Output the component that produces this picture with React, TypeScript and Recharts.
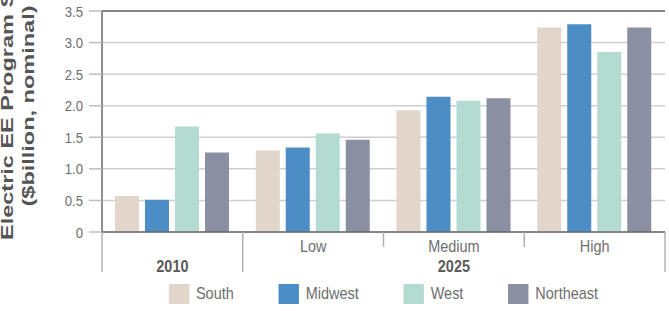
import React from 'react';
import { BarChart, Bar, XAxis, YAxis, CartesianGrid, Legend, ReferenceLine } from 'recharts';

// scenario row and the year row under it
const scenarios = ['', 'Low', 'Medium', 'High'];
const years = ['2010', '2025', '2025', '2025'];

// $billion, nominal
const south = [0.57, 1.29, 1.93, 3.24];
const midwest = [0.51, 1.34, 2.14, 3.29];
const west = [1.67, 1.56, 2.08, 2.85];
const northeast = [1.26, 1.46, 2.12, 3.24];

const yTicks = [0, 0.5, 1, 1.5, 2, 2.5, 3, 3.5];

const series = [
  { key: 'south', name: 'South', color: '#e2d5c9' },
  { key: 'midwest', name: 'Midwest', color: '#4b8dc4' },
  { key: 'west', name: 'West', color: '#b4dbd2' },
  { key: 'northeast', name: 'Northeast', color: '#8a8fa2' },
];

const data = scenarios.map((s, i) => ({
  scenario: s,
  year: years[i],
  south: south[i],
  midwest: midwest[i],
  west: west[i],
  northeast: northeast[i],
}));

const W = 669;
const H = 311;
const margin = { top: 11, right: 4, left: 0, bottom: 34 };
const yAxisWidth = 102;
const plotWidth = W - margin.left - margin.right - yAxisWidth;
const band = plotWidth / scenarios.length;

// no narrow font installed, so squeeze Liberation Sans horizontally
const font = "'Liberation Sans', Arial, sans-serif";
const squeeze = 0.85;
const tickGray = '#6e6e6e';
const lineGray = '#6a6a6a';

const ScenarioTick = (props: any) => {
  const { x, y, index, payload } = props;
  const i = index;
  const left = x - band / 2;
  const yearStart = i === 0 || years[i] !== years[i - 1];
  let run = 1;
  while (i + run < years.length && years[i + run] === years[i]) run++;
  const isLast = i === scenarios.length - 1;
  const yearX = x + ((run - 1) * band) / 2;
  return (
    <g fontFamily={font} fontSize={17}>
      <line x1={left} x2={left} y1={y} y2={y + (yearStart ? 40 : 15)} stroke="#b3b3b3" strokeWidth={1.5} />
      {isLast && (
        <line x1={x + band / 2} x2={x + band / 2} y1={y} y2={y + 40} stroke="#b3b3b3" strokeWidth={1.5} />
      )}
      <text transform={`translate(${x},${y + 20}) scale(${squeeze},1)`} textAnchor="middle" fill={tickGray}>
        {payload.value}
      </text>
      {yearStart && (
        <text
          transform={`translate(${yearX},${y + 40}) scale(${squeeze},1)`}
          textAnchor="middle"
          fill="#5a5a5a"
          fontWeight="bold"
        >
          {years[i]}
        </text>
      )}
    </g>
  );
};

const YTick = (props: any) => {
  const { x, y, payload } = props;
  const v = payload.value as number;
  return (
    <text
      transform={`translate(${x},${y}) scale(${squeeze},1)`}
      dy="0.36em"
      textAnchor="end"
      fill={tickGray}
      fontSize={15.5}
      fontFamily={font}
    >
      {v === 0 ? '0' : v.toFixed(1)}
    </text>
  );
};

const YTitle = () => (
  <g fill="#555" fontFamily={font} fontWeight="bold" fontSize={23.5}>
    <text transform="translate(13,240) rotate(-90) scale(1,0.72)" textAnchor="start">
      Electric EE Program Spending
    </text>
    <text transform="translate(34,106) rotate(-90) scale(1,0.72)" textAnchor="middle">
      ($billion, nominal)
    </text>
  </g>
);

// whole row is squeezed, so swatch sizes and gaps are given pre-squeeze
const LegendBox = () => (
  <div style={{ display: 'flex', justifyContent: 'center', transform: `scaleX(${squeeze})` }}>
    <div style={{ display: 'flex', gap: 45 / squeeze }}>
      {series.map((s) => (
        <div key={s.key} style={{ display: 'flex', alignItems: 'center' }}>
          <div style={{ width: 20 / squeeze, height: 20, background: s.color, marginRight: 7 / squeeze }} />
          <span style={{ fontFamily: font, fontSize: 17, color: tickGray, lineHeight: '20px' }}>{s.name}</span>
        </div>
      ))}
    </div>
  </div>
);

export default function App() {
  return (
    <div style={{ position: 'absolute', left: 0, top: 0, background: '#fff' }}>
      <BarChart width={W} height={H} data={data} margin={margin} barCategoryGap={13} barGap={6}>
        <CartesianGrid vertical={false} stroke="#cfcfcf" strokeWidth={1.5} />
        <XAxis
          dataKey="scenario"
          interval={0}
          height={45}
          tickSize={0}
          tickMargin={0}
          tickLine={false}
          axisLine={{ stroke: lineGray, strokeWidth: 1.5 }}
          tick={<ScenarioTick />}
        />
        <YAxis
          width={yAxisWidth}
          domain={[0, 3.5]}
          ticks={yTicks}
          interval={0}
          tickSize={13}
          tickMargin={6}
          tickLine={{ stroke: '#bdbdbd', strokeWidth: 1.5 }}
          axisLine={{ stroke: lineGray, strokeWidth: 1.5 }}
          tick={<YTick />}
          label={{ content: <YTitle /> }}
        />
        <YAxis
          yAxisId="frame"
          orientation="right"
          width={0}
          domain={[0, 3.5]}
          tick={false}
          tickLine={false}
          axisLine={{ stroke: lineGray, strokeWidth: 1.5 }}
        />
        <ReferenceLine y={3.5} stroke={lineGray} strokeWidth={1.5} />
        {series.map((s) => (
          <Bar key={s.key} dataKey={s.key} name={s.name} fill={s.color} isAnimationActive={false} />
        ))}
        <Legend
          layout="horizontal"
          verticalAlign="middle"
          align="center"
          wrapperStyle={{ top: 284, left: yAxisWidth, width: plotWidth }}
          content={<LegendBox />}
        />
      </BarChart>
    </div>
  );
}
